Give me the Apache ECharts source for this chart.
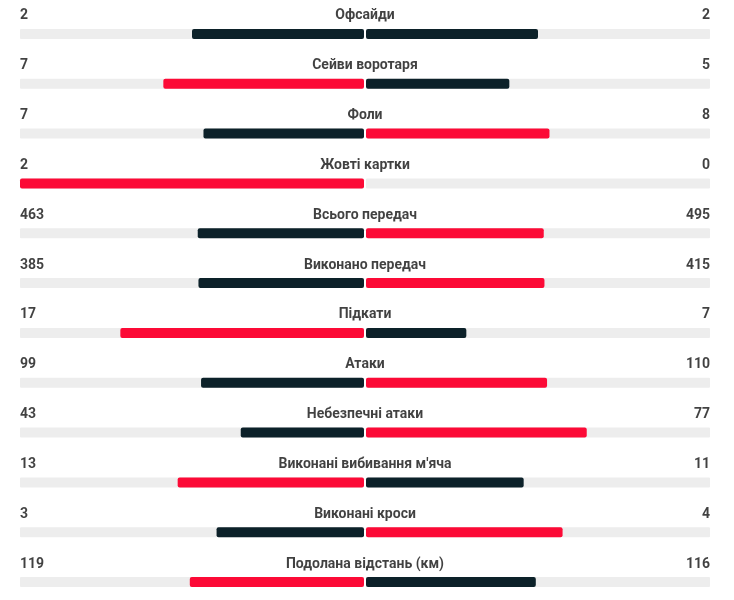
<html>
<head>
<meta charset="utf-8"/>
<title>Статистика матчу</title>
<script src="https://cdn.jsdelivr.net/npm/echarts@6/dist/echarts.min.js"></script>
<style>
  html, body { margin: 0; padding: 0; background: #fff; overflow: hidden; }
</style>
</head>
<body>
<div id="main" style="width:734px;height:612px;"></div>
<script type="text/javascript">
// назви показників
var labels = ['Офсайди', 'Сейви воротаря', 'Фоли', 'Жовті картки', 'Всього передач',
  'Виконано передач', 'Підкати', 'Атаки', 'Небезпечні атаки',
  "Виконані вибивання м'яча", 'Виконані кроси', 'Подолана відстань (км)'];
// господарі (ліворуч) і гості (праворуч)
var home = [2, 7, 7, 2, 463, 385, 17, 99, 43, 13, 3, 119];
var away = [2, 5, 8, 0, 495, 415, 7, 110, 77, 11, 4, 116];

var RED = '#fc0a36';
var DARK = '#0c2129';
var TRACK = '#ededed';

function barColor(a, b) {
  return a > b ? RED : DARK;
}

var leftData = home.map(function (v, i) {
  var s = v + away[i];
  return { value: s ? v / s : 0, itemStyle: { color: barColor(v, away[i]) } };
});
var rightData = away.map(function (v, i) {
  var s = v + home[i];
  return { value: s ? v / s : 0, itemStyle: { color: barColor(v, home[i]) } };
});

var chart = echarts.init(document.getElementById('main'));

var gridTop = 9, gridH = 598;
var textStyle = { fontFamily: 'Roboto', fontWeight: 'bold', fontSize: 14, color: '#111' };

function catAxis(idx) {
  return {
    type: 'category', gridIndex: idx, data: labels, inverse: true,
    axisLine: { show: false }, axisTick: { show: false }, axisLabel: { show: false }
  };
}
function valAxis(idx, min, max, inverse) {
  return {
    type: 'value', gridIndex: idx, min: min, max: max, inverse: inverse,
    axisLine: { show: false }, axisTick: { show: false }, axisLabel: { show: false },
    splitLine: { show: false }
  };
}
function textSeries(x, align, texts) {
  return {
    type: 'scatter', xAxisIndex: 2, yAxisIndex: 2, symbolSize: 0, silent: true,
    data: texts.map(function (t, i) { return [x, labels[i], t]; }),
    label: {
      show: true, position: 'inside', offset: [0, -18], align: align,
      formatter: function (p) { return p.data[2]; },
      fontFamily: textStyle.fontFamily, fontWeight: textStyle.fontWeight,
      fontSize: textStyle.fontSize, color: textStyle.color
    }
  };
}

var option = {
  animation: false,
  grid: [
    { left: 20, width: 344, top: gridTop, height: gridH },
    { left: 366, width: 344, top: gridTop, height: gridH },
    { left: 20, width: 690, top: gridTop, height: gridH }
  ],
  xAxis: [valAxis(0, 0, 1, true), valAxis(1, 0, 1, false), valAxis(2, -1, 1, false)],
  yAxis: [catAxis(0), catAxis(1), catAxis(2)],
  series: [
    {
      type: 'bar', xAxisIndex: 0, yAxisIndex: 0, data: leftData, barWidth: 10,
      showBackground: true, backgroundStyle: { color: TRACK, borderRadius: 1 },
      itemStyle: { borderRadius: 2 }, silent: true
    },
    {
      type: 'bar', xAxisIndex: 1, yAxisIndex: 1, data: rightData, barWidth: 10,
      showBackground: true, backgroundStyle: { color: TRACK, borderRadius: 1 },
      itemStyle: { borderRadius: 2 }, silent: true
    },
    textSeries(-1, 'left', home),
    textSeries(0, 'center', labels),
    textSeries(1, 'right', away)
  ]
};

chart.setOption(option);
</script>
</body>
</html>
